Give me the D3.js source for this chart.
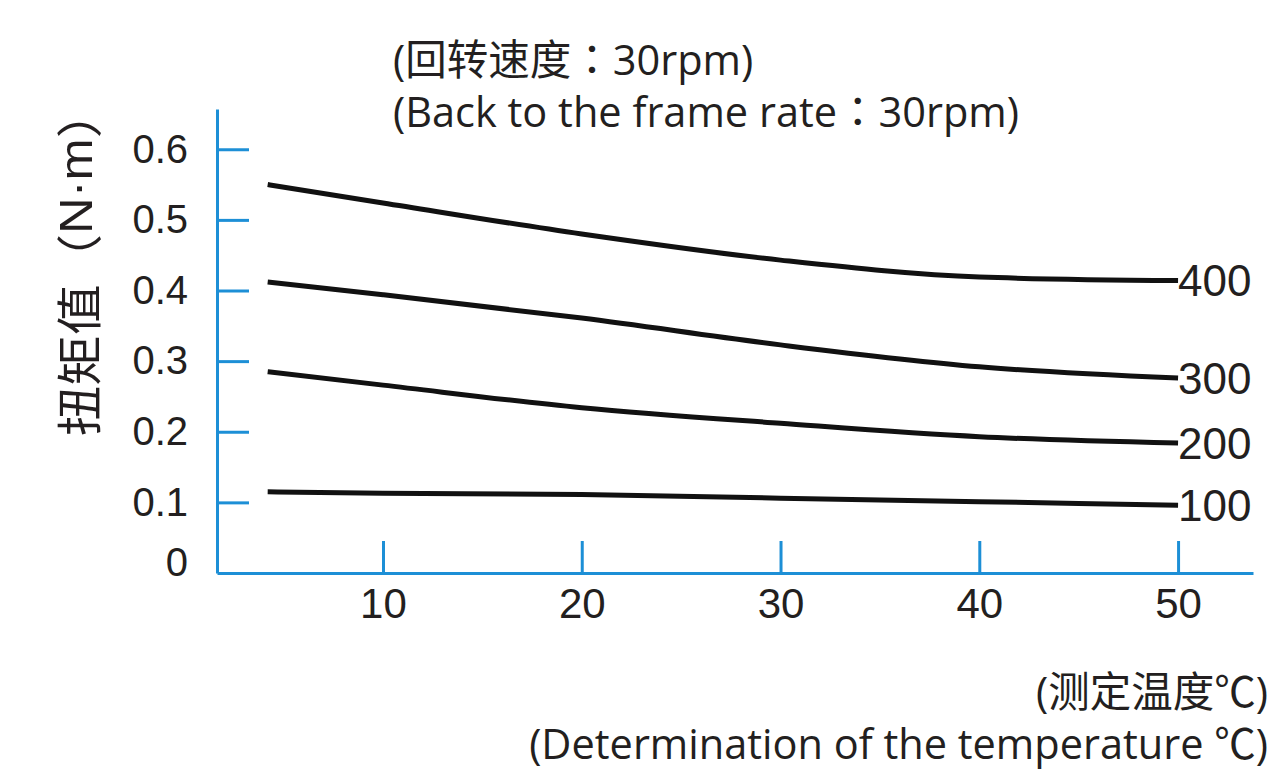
<!DOCTYPE html>
<html>
<head>
<meta charset="utf-8">
<script src="https://cdn.jsdelivr.net/npm/d3@7/dist/d3.min.js"></script>
<style>
  body { margin: 0; background: #fff; }
  svg { display: block; }
</style>
</head>
<body>
<svg id="chart" width="1272" height="772"></svg>
<script>
// temperature (°C) along the x axis
var temps = [4.2, 10, 20, 30, 40, 50]
// torque (N·m) for each load curve
var torque400 = [0.550, 0.524, 0.480, 0.443, 0.419, 0.414]
var torque300 = [0.412, 0.394, 0.361, 0.323, 0.292, 0.276]
var torque200 = [0.285, 0.266, 0.234, 0.212, 0.193, 0.184]
var torque100 = [0.115, 0.113, 0.111, 0.106, 0.101, 0.096]
var curve_names = ["400", "300", "200", "100"]
var x_ticks = [10, 20, 30, 40, 50]
var y_ticks = [0, 0.1, 0.2, 0.3, 0.4, 0.5, 0.6]

var blue = "#1d8fd6"
var ink = "#231f20"
var svg = d3.select("#chart")

var x = d3.scaleLinear().domain([1.65, 53.77]).range([217, 1253])
var y = d3.scaleLinear().domain([0, 0.657]).range([573, 109])

// x axis, ticks pointing up into the plot
var gx = svg.append("g")
  .attr("transform", "translate(0,573)")
  .call(d3.axisBottom(x).tickValues(x_ticks).tickSizeInner(-32).tickSizeOuter(0).tickPadding(15))
gx.select(".domain").attr("stroke", blue).attr("stroke-width", 3)
gx.selectAll(".tick line").attr("stroke", blue).attr("stroke-width", 3)
gx.selectAll(".tick text")
  .attr("fill", ink)
  .style("font-family", "'Liberation Sans', Arial, sans-serif")
  .style("font-size", "42px")

// y axis, ticks pointing right
var gy = svg.append("g")
  .attr("transform", "translate(217,0)")
  .call(d3.axisLeft(y).tickValues(y_ticks).tickSizeInner(-32).tickSizeOuter(0).tickPadding(29)
    .tickFormat(function(d){ return d === 0 ? "0" : d3.format(".1f")(d) }))
gy.select(".domain").attr("stroke", blue).attr("stroke-width", 3)
gy.selectAll(".tick line").attr("stroke", blue).attr("stroke-width", 3)
gy.selectAll(".tick line").filter(function(d){ return d === 0 }).remove()
gy.selectAll(".tick text")
  .attr("fill", ink)
  .style("font-family", "'Liberation Sans', Arial, sans-serif")
  .style("font-size", "40px")
gy.selectAll(".tick text").filter(function(d){ return d === 0 }).attr("y", -10)

// curves
var series = [torque400, torque300, torque200, torque100]
var line = d3.line()
  .x(function(d, i){ return x(temps[i]) })
  .y(function(d){ return y(d) })
  .curve(d3.curveMonotoneX)

svg.append("g").selectAll("path")
  .data(series)
  .enter().append("path")
    .attr("fill", "none")
    .attr("stroke", "#111")
    .attr("stroke-width", 5)
    .attr("d", line)

svg.append("g").selectAll("text")
  .data(series)
  .enter().append("text")
    .attr("x", x(temps[temps.length - 1]))
    .attr("y", function(d){ return y(d[d.length - 1]) })
    .attr("dy", "0.36em")
    .attr("fill", ink)
    .style("font-family", "'Liberation Sans', Arial, sans-serif")
    .style("font-size", "44px")
    .text(function(d, i){ return curve_names[i] })

// y title (glyphs look a bit stretched along the text in the original)
var yt = svg.append("text")
  .attr("transform", "translate(76,262) rotate(-90) scale(1.1,1)")
  .attr("text-anchor", "middle")
  .attr("dominant-baseline", "central")
  .attr("fill", ink)
  .style("font-family", "'Noto Sans CJK SC', sans-serif")
  .style("font-size", "46px")
yt.append("tspan").text("扭矩值（")
yt.append("tspan").style("font-family", "'Liberation Sans', Arial, sans-serif").text("N·m")
yt.append("tspan").text("）")

// notes
var note_font = "'Open Sans', 'Noto Sans CJK SC', sans-serif"
var t1 = svg.append("text")
  .attr("x", 393).attr("y", 75)
  .attr("fill", ink)
  .style("font-family", note_font)
  .style("font-size", "41.5px")
t1.append("tspan").text("(回转速度")
t1.append("tspan").style("font-family", "'Noto Sans CJK TC', sans-serif").text("：")
t1.append("tspan").text("30rpm)")

var t2 = svg.append("text")
  .attr("x", 393).attr("y", 127)
  .attr("fill", ink)
  .style("font-family", note_font)
  .style("font-size", "41.5px")
t2.append("tspan").text("(Back to the frame rate")
t2.append("tspan").style("font-family", "'Noto Sans CJK TC', sans-serif").text("：")
t2.append("tspan").text("30rpm)")

svg.append("text")
  .attr("x", 1268).attr("y", 707)
  .attr("text-anchor", "end")
  .attr("fill", ink)
  .style("font-family", note_font)
  .style("font-size", "41.5px")
  .text("(测定温度℃)")
svg.append("text")
  .attr("x", 1268).attr("y", 759)
  .attr("text-anchor", "end")
  .attr("fill", ink)
  .style("font-family", note_font)
  .style("font-size", "41.5px")
  .text("(Determination of the temperature ℃)")
</script>
</body>
</html>
